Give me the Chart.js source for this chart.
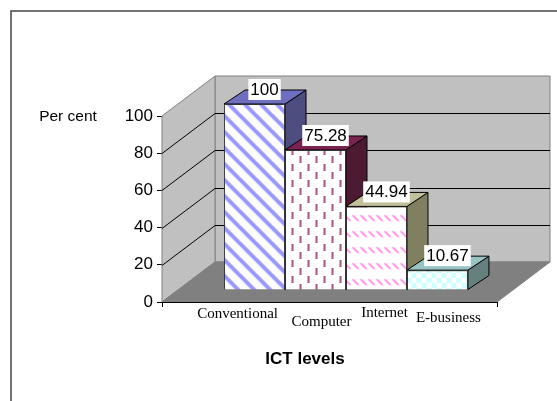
<!DOCTYPE html>
<html lang="en">
<head>
  <meta charset="UTF-8" />
  <title>ICT levels</title>
  <style>
    body { margin: 0; background: #fff; }
    canvas { display: block; }
  </style>
</head>
<body>
  <canvas id="ictChart" width="557" height="401"></canvas>

  <script src="https://cdn.jsdelivr.net/npm/chart.js"></script>
  <script>
    // data
    const groupLabels = ['ICT levels'];
    const levelNames = ['Conventional', 'Computer', 'Internet', 'E-business'];
    const levelValues = [100, 75.28, 44.94, 10.67];
    const levelText = ['100', '75.28', '44.94', '10.67'];
    const tickValues = [0, 20, 40, 60, 80, 100];

    // depth of the fake 3D box
    const wallDx = 53, wallDy = -40;
    const barShiftX = 16.5, barShiftY = -12;
    const barDx = 21, barDy = -14;
    const topColors = ['#6f6fc0', '#7a2350', '#c0c09a', '#99c4c4'];
    const sideColors = ['#4d4d80', '#4d1a33', '#808060', '#668080'];
    const nameOffsets = [[-17, 24], [6, 32], [8, 23], [11, 28]];

    function makeTile(w, h, paint) {
      const c = document.createElement('canvas');
      c.width = w; c.height = h;
      const g = c.getContext('2d');
      g.fillStyle = '#fff';
      g.fillRect(0, 0, w, h);
      paint(g);
      return g.createPattern(c, 'repeat');
    }

    const ctx = document.getElementById('ictChart').getContext('2d');

    const barFills = [
      makeTile(16, 16, g => {
        g.strokeStyle = '#9999ff';
        g.lineWidth = 4;
        [-16, 0, 16].forEach(o => {
          g.beginPath(); g.moveTo(o - 2, -2); g.lineTo(o + 18, 18); g.stroke();
        });
      }),
      makeTile(16, 16, g => {
        g.fillStyle = '#b0507f';
        g.fillRect(3, 0, 2, 7);
        g.fillRect(11, 8, 2, 7);
      }),
      makeTile(8, 16, g => {
        g.strokeStyle = '#ff80f0';
        g.lineWidth = 1.6;
        g.beginPath(); g.moveTo(0, 3); g.lineTo(6, 9); g.stroke();
      }),
      makeTile(10, 10, g => {
        g.fillStyle = '#ccffff';
        g.fillRect(0, 0, 5, 5);
        g.fillRect(5, 5, 5, 5);
      })
    ];

    function poly(c, pts, fill, stroke) {
      c.beginPath();
      pts.forEach((p, i) => i ? c.lineTo(p[0], p[1]) : c.moveTo(p[0], p[1]));
      c.closePath();
      if (fill) { c.fillStyle = fill; c.fill(); }
      if (stroke) { c.strokeStyle = stroke; c.lineWidth = 1; c.stroke(); }
    }

    const boxPlugin = {
      id: 'box3d',
      beforeDatasetsDraw(chart) {
        const c = chart.ctx, a = chart.chartArea, y = chart.scales.y;
        const l = a.left, r = a.right, t = y.getPixelForValue(100), b = y.getPixelForValue(0);

        c.save();
        // walls and floor
        poly(c, [[l + wallDx, t + wallDy], [r + wallDx, t + wallDy], [r + wallDx, b + wallDy], [l + wallDx, b + wallDy]], '#c0c0c0', '#808080');
        poly(c, [[l, t], [l + wallDx, t + wallDy], [l + wallDx, b + wallDy], [l, b]], '#c0c0c0', '#808080');
        poly(c, [[l, b], [l + wallDx, b + wallDy], [r + wallDx, b + wallDy], [r, b]], '#808080', '#808080');

        // gridlines run along both walls
        c.strokeStyle = '#000';
        c.lineWidth = 1;
        tickValues.slice(1, -1).forEach(v => {
          const py = Math.round(y.getPixelForValue(v)) + 0.5;
          c.beginPath();
          c.moveTo(l, py);
          c.lineTo(l + wallDx, py + wallDy);
          c.lineTo(r + wallDx, py + wallDy);
          c.stroke();
        });
        c.beginPath();
        c.moveTo(l, b + 0.5); c.lineTo(r, b + 0.5);
        c.moveTo(l + 0.5, b); c.lineTo(l + 0.5, b + 5);
        c.moveTo(r + 0.5, b); c.lineTo(r + 0.5, b + 5);
        c.stroke();

        // sides and tops of the bars, back to front order
        c.translate(barShiftX, barShiftY);
        levelValues.forEach((v, i) => {
          const bar = chart.getDatasetMeta(i).data[0];
          const x0 = bar.x - bar.width / 2, x1 = bar.x + bar.width / 2;
          poly(c, [[x1, bar.y], [x1 + barDx, bar.y + barDy], [x1 + barDx, bar.base + barDy], [x1, bar.base]], sideColors[i], '#000');
          poly(c, [[x0, bar.y], [x1, bar.y], [x1 + barDx, bar.y + barDy], [x0 + barDx, bar.y + barDy]], topColors[i], '#000');
        });
        // the library draws the fronts in this same shifted space
      },
      afterDatasetsDraw(chart) {
        const c = chart.ctx, a = chart.chartArea;
        c.restore();
        c.save();

        c.textAlign = 'center';
        c.textBaseline = 'middle';
        levelValues.forEach((v, i) => {
          const bar = chart.getDatasetMeta(i).data[0];
          const px = bar.x + barShiftX + 10, py = bar.y + barShiftY - 15;
          c.font = '17px "Liberation Sans"';
          const w = c.measureText(levelText[i]).width + 4;
          c.fillStyle = '#fff';
          c.fillRect(px - w / 2, py - 10, w, 21);
          c.fillStyle = '#000';
          c.fillText(levelText[i], px, py + 1);
        });

        c.font = '15px "Liberation Serif"';
        c.fillStyle = '#000';
        levelNames.forEach((n, i) => {
          const bar = chart.getDatasetMeta(i).data[0];
          c.fillText(n, bar.x + barShiftX + nameOffsets[i][0], a.bottom + nameOffsets[i][1] - 12);
        });

        c.font = '15.5px "Liberation Sans"';
        c.fillText('Per cent', 68, 117);
        c.font = 'bold 17px "Liberation Sans"';
        c.fillText(groupLabels[0], 305, 359);

        // outer frame, open on the right and bottom
        c.strokeStyle = '#444';
        c.lineWidth = 1.5;
        c.beginPath();
        c.moveTo(11, 401); c.lineTo(11, 11); c.lineTo(557, 11);
        c.stroke();
        c.restore();
      }
    };

    new Chart(ctx, {
      type: 'bar',
      data: {
        labels: groupLabels,
        datasets: levelNames.map((name, i) => ({
          label: name,
          data: [levelValues[i]],
          backgroundColor: barFills[i],
          borderColor: '#333',
          borderWidth: 1
        }))
      },
      options: {
        responsive: false,
        animation: false,
        layout: { padding: { left: 122, top: 116, right: 60, bottom: 99 } },
        datasets: { bar: { categoryPercentage: 0.728, barPercentage: 1 } },
        plugins: { legend: { display: false }, tooltip: { enabled: false } },
        scales: {
          x: { display: false },
          y: {
            min: 0,
            max: 100,
            afterFit(scale) { scale.width = 40; },
            afterBuildTicks(scale) { scale.ticks = tickValues.map(v => ({ value: v })); },
            border: { color: '#000', width: 1 },
            grid: { drawOnChartArea: false, color: '#000', tickLength: 5 },
            ticks: { color: '#000', padding: 4, font: { family: 'Liberation Sans', size: 17 } }
          }
        }
      },
      plugins: [boxPlugin]
    });
  </script>
</body>
</html>
